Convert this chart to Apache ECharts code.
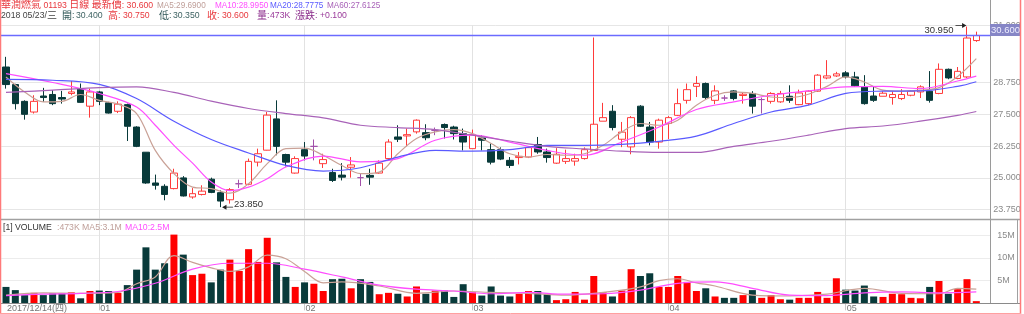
<!DOCTYPE html>
<html><head><meta charset="utf-8">
<script src="https://cdn.jsdelivr.net/npm/echarts@6/dist/echarts.min.js"></script>
<style>html,body{margin:0;padding:0;background:#fff;overflow:hidden}#c{width:1024px;height:314px}</style>
</head><body><div id="c"></div>
<script>
// ---------------- DATA ----------------
const dates = [
'2017/12/14','2017/12/15','2017/12/18','2017/12/19','2017/12/20','2017/12/21','2017/12/22','2017/12/27','2017/12/28','2017/12/29',
'2018/01/02','2018/01/03','2018/01/04','2018/01/05','2018/01/08','2018/01/09','2018/01/10','2018/01/11','2018/01/12','2018/01/15',
'2018/01/16','2018/01/17','2018/01/18','2018/01/19','2018/01/22','2018/01/23','2018/01/24','2018/01/25','2018/01/26','2018/01/29',
'2018/01/30','2018/01/31','2018/02/01','2018/02/02','2018/02/05','2018/02/06','2018/02/07','2018/02/08','2018/02/09','2018/02/12',
'2018/02/13','2018/02/14','2018/02/15','2018/02/20','2018/02/21','2018/02/22','2018/02/23','2018/02/26','2018/02/27','2018/02/28',
'2018/03/01','2018/03/02','2018/03/05','2018/03/06','2018/03/07','2018/03/08','2018/03/09','2018/03/12','2018/03/13','2018/03/14',
'2018/03/15','2018/03/16','2018/03/19','2018/03/20','2018/03/21','2018/03/22','2018/03/23','2018/03/26','2018/03/27','2018/03/28',
'2018/03/29','2018/04/03','2018/04/04','2018/04/06','2018/04/09','2018/04/10','2018/04/11','2018/04/12','2018/04/13','2018/04/16',
'2018/04/17','2018/04/18','2018/04/19','2018/04/20','2018/04/23','2018/04/24','2018/04/25','2018/04/26','2018/04/27','2018/04/30',
'2018/05/02','2018/05/03','2018/05/04','2018/05/07','2018/05/08','2018/05/09','2018/05/10','2018/05/11','2018/05/14','2018/05/15',
'2018/05/16','2018/05/17','2018/05/18','2018/05/21','2018/05/23'];

const opens = [
29.36,28.67,28.01,27.59,28.22,28.28,28.16,28.32,28.49,27.82,
28.38,27.95,27.62,27.88,27.00,26.01,24.80,24.67,24.58,25.00,
24.25,24.35,24.95,24.42,24.14,24.77,24.75,25.62,26.09,27.32,
25.92,25.19,26.11,26.24,25.56,25.21,25.11,25.42,25.01,25.10,
25.19,25.76,26.61,26.65,26.81,26.78,26.87,27.10,27.00,26.74,
26.15,26.57,26.11,26.11,25.69,25.80,25.82,26.31,26.02,25.58,
25.65,25.66,25.76,26.08,27.23,27.62,26.52,26.22,27.82,27.00,
26.41,27.14,27.46,28.05,28.60,28.71,28.05,28.14,28.42,28.24,
28.32,28.08,28.01,27.99,28.21,27.88,27.92,28.41,28.93,29.01,
29.13,28.97,28.58,28.22,28.21,28.16,28.12,28.25,28.38,28.41,
28.32,29.27,28.91,28.97,30.40];
const closes = [
28.67,27.92,27.50,28.01,28.16,27.92,28.10,28.38,27.97,28.38,
28.01,27.55,27.90,27.03,26.24,24.80,24.71,24.35,25.19,24.29,
24.38,24.48,24.43,24.09,24.54,24.77,25.65,25.95,27.47,26.24,
25.62,25.76,25.86,26.24,25.72,24.90,25.03,25.51,25.01,25.03,
25.58,26.41,26.52,26.70,27.27,26.58,26.87,26.98,26.74,26.41,
26.70,26.48,25.62,25.74,25.49,25.85,26.19,26.02,25.80,25.93,
25.76,25.76,26.11,27.11,27.37,26.98,26.80,27.37,27.03,26.41,
27.27,27.37,27.92,28.47,28.71,28.16,28.42,28.14,28.12,28.29,
27.82,28.08,28.32,28.32,28.05,28.34,28.41,29.04,29.01,29.09,
28.97,28.62,27.92,28.05,28.33,28.28,28.28,28.41,28.58,28.05,
29.27,28.93,29.19,30.50,30.60];
const lows = [
28.51,27.69,27.29,27.53,27.99,27.86,27.92,28.25,27.95,27.37,
27.86,27.53,27.55,26.45,26.21,24.77,24.54,24.12,24.55,24.27,
24.18,24.31,24.40,23.85,23.99,24.60,24.71,25.45,26.08,25.89,
25.45,25.17,25.69,25.69,25.39,24.84,24.90,25.01,24.68,24.73,
25.17,25.72,26.41,26.24,26.74,26.48,26.68,26.55,26.51,26.08,
26.15,26.08,25.53,25.70,25.39,25.53,25.78,25.95,25.60,25.55,
25.55,25.48,25.72,26.06,27.23,26.87,26.21,25.93,27.00,26.28,
26.15,26.53,27.43,27.92,28.18,28.08,27.90,28.03,28.05,27.92,
27.53,27.53,27.92,27.95,27.95,27.86,27.86,28.38,28.88,28.97,
28.91,28.58,27.88,27.99,28.21,27.88,28.06,28.21,28.14,27.96,
28.29,28.88,28.88,28.93,30.35];
const highs = [
29.76,28.70,28.05,28.25,28.54,28.45,28.42,28.81,28.71,28.51,
28.42,27.99,28.01,27.92,27.03,26.01,25.13,24.75,25.36,25.07,
24.60,24.71,25.01,24.51,24.60,24.93,25.76,26.15,27.59,28.05,
25.95,25.85,26.41,26.51,25.95,25.36,25.58,25.82,25.17,25.36,
25.69,26.52,27.07,26.94,27.30,27.11,26.98,27.14,27.05,26.94,
26.90,26.68,26.35,26.20,25.82,26.02,26.24,26.61,26.15,26.17,
26.11,25.95,26.20,30.52,27.95,27.86,27.20,27.43,27.86,27.20,
27.33,27.43,28.51,28.71,29.00,28.75,28.64,28.25,28.45,28.34,
28.41,28.16,28.37,28.42,28.64,28.47,28.45,29.08,29.63,29.17,
29.20,29.17,29.04,28.58,28.41,28.41,28.49,28.45,28.64,29.20,
29.50,29.30,29.36,30.95,30.75];

// volume in millions of shares
const volumes = [
3.6,2.9,1.8,2.3,1.8,2.2,2.2,2.4,1.1,2.7,
2.8,2.7,2.3,4.0,7.4,12.3,7.4,8.8,15.1,10.7,
6.2,6.5,4.6,7.4,9.6,7.1,11.9,9.1,14.4,9.0,
5.8,3.6,4.6,4.3,2.7,5.3,5.4,3.3,5.3,4.7,
2.0,2.3,2.1,1.5,3.7,2.1,2.8,2.8,1.4,4.2,
2.4,1.7,3.7,1.7,1.5,2.1,2.7,2.7,2.0,0.7,
0.9,2.5,0.8,6.0,2.4,1.5,2.8,7.5,6.0,6.6,
3.6,3.6,6.0,4.7,2.7,3.3,1.5,1.2,1.2,1.8,
2.9,1.2,1.8,0.9,0.8,1.2,1.2,2.5,1.2,5.5,
3.0,2.8,3.9,1.5,1.4,2.1,2.0,1.2,1.1,3.6,
4.9,2.1,3.1,5.3,0.473];

// moving averages: [candle index, value]
const ma5 = [[0,28.97],[2,28.38],[4,27.99],[6,28.01],[8,28.28],[10,28.05],[12,27.90],[14,27.53],[16,26.08],[18,25.17],
[20,24.64],[22,24.58],[24,24.40],[26,24.77],[28,25.56],[30,26.15],[32,26.17],[34,25.89],[36,25.49],[38,25.17],
[40,25.23],[42,25.95],[44,26.55],[46,26.81],[48,26.90],[50,26.74],[52,26.35],[54,25.95],[56,25.82],[58,25.92],
[60,25.89],[62,25.95],[64,26.28],[66,26.81],[68,27.14],[70,27.07],[72,27.27],[74,27.86],[76,28.25],[78,28.38],
[80,28.32],[82,28.18],[84,28.16],[86,28.29],[88,28.60],[90,28.97],[92,28.77],[94,28.45],[96,28.41],[98,28.45],
[100,28.55],[102,28.99],[104,29.69]];
const ma10 = [[0,29.10],[5,28.75],[10,28.32],[14,27.79],[16,27.07],[18,26.28],[20,25.58],[22,24.84],[24,24.50],[26,24.64],
[28,24.97],[30,25.43],[34,25.86],[38,25.63],[42,25.76],[46,26.48],[50,26.68],[54,26.41],[58,26.08],[62,25.89],
[66,26.41],[70,27.00],[74,27.69],[78,27.99],[82,28.25],[86,28.42],[90,28.58],[94,28.60],[98,28.51],[102,28.81],[104,29.00]];
const ma20 = [[0,28.87],[5,28.84],[10,28.68],[14,28.12],[18,27.23],[22,26.51],[26,25.98],[30,25.49],[34,25.27],[38,25.40],
[42,25.82],[46,26.08],[50,26.05],[54,26.11],[58,26.28],[62,26.28],[66,26.32],[70,26.44],[74,26.64],[78,27.14],
[82,27.59],[86,27.86],[90,28.32],[94,28.41],[98,28.42],[102,28.60],[104,28.78]];
const ma60 = [[0,28.36],[5,28.45],[10,28.55],[14,28.58],[18,28.36],[22,28.02],[26,27.73],[30,27.53],[34,27.36],[38,27.07],
[42,26.98],[46,26.90],[50,26.68],[54,26.45],[58,26.24],[62,26.14],[66,26.05],[70,26.00],[74,26.00],[78,26.24],
[82,26.44],[86,26.68],[90,26.94],[94,27.04],[98,27.23],[102,27.46],[104,27.61]];
const volMa5 = [[0,1.8],[4,2.3],[8,2.2],[12,2.4],[14,4.3],[16,5.8],[18,10.5],[20,9.0],[22,7.8],[24,7.0],
[26,8.0],[28,10.6],[30,9.8],[32,7.0],[34,4.5],[36,4.7],[40,3.8],[44,2.2],[48,2.7],[52,2.4],
[56,2.2],[60,1.8],[64,2.4],[66,2.9],[68,3.6],[70,5.0],[72,5.4],[74,4.5],[76,3.8],[80,1.8],
[84,1.6],[88,2.0],[90,2.8],[92,3.3],[96,2.2],[100,2.1],[102,3.3],[104,3.1]];
const volMa10 = [[0,1.7],[4,2.0],[8,2.2],[12,2.6],[16,4.4],[20,7.5],[24,8.8],[28,8.8],[32,7.5],[36,5.8],
[40,4.0],[44,3.1],[48,2.7],[52,2.1],[56,2.4],[60,2.0],[64,2.1],[68,2.9],[72,4.4],[76,4.7],
[80,3.3],[84,1.8],[88,1.7],[92,2.3],[96,2.5],[100,2.3],[104,2.5]];

const priceTicks = [23.75, 25.0, 26.25, 27.5, 28.75, 31.0];
const volTicks = [5, 10, 15];
const legendMA = { ma5: '29.6900', ma10: '28.9950', ma20: '28.7775', ma60: '27.6125', vma5: '3.1M', vma10: '2.5M' };

// ---------------- CHART ----------------
const FONT = "'Liberation Sans','Noto Sans CJK TC',sans-serif";
const UP = '#ff3a3a', DOWN = '#083a3a', DOJI = '#a250aa';
const C_MA5 = '#c9a196', C_MA10 = '#ff4dff', C_MA20 = '#5a5aff', C_MA60 = '#a862b8';
const weekday = ['日','一','二','三','四','五','六'];

const n = dates.length;
const isUp = i => closes[i] > opens[i] || (closes[i] === opens[i] && (i === 0 || closes[i] >= closes[i - 1]));
const labelIdx = {};
dates.forEach((d, i) => {
  if (i === 0) {
    const p = d.split('/');
    const wd = new Date(+p[0], +p[1] - 1, +p[2]).getDay();
    labelIdx[i] = d + '(' + weekday[wd] + ')';
  } else if (d.slice(5, 7) !== dates[i - 1].slice(5, 7)) {
    labelIdx[i] = d.slice(5, 7);
  }
});
const monthStarts = Object.keys(labelIdx).map(Number).filter(i => i > 0);

const candleData = dates.map((d, i) => {
  const v = [opens[i], closes[i], lows[i], highs[i]];
  if (opens[i] === closes[i]) return { value: v, itemStyle: { borderColor: DOJI, borderColor0: DOJI } };
  return v;
});

const rightArrow = 'path://M0,3 L13,3 L13,4 L0,4 Z M12,0 L20,3.5 L12,7 Z';
const leftArrow = 'path://M20,3 L7,3 L7,4 L20,4 Z M8,0 L0,3.5 L8,7 Z';

const vGrid = {
  silent: true, symbol: 'none', z: 1,
  lineStyle: { color: '#e2e2e2', type: 'solid', width: 1 },
  label: { show: false },
  data: monthStarts.map(i => ({ xAxis: i }))
};

const chart = echarts.init(document.getElementById('c'), null, { renderer: 'canvas' });
const option = {
  animation: false,
  backgroundColor: '#ffffff',
  textStyle: { fontFamily: FONT },
  grid: [
    { left: 1.33, right: 33.7, top: 25.3, height: 193.3 },
    { left: 1.33, right: 33.7, top: 220.5, height: 82.8 }
  ],
  xAxis: [
    { type: 'category', gridIndex: 0, data: dates, max: n, boundaryGap: true,
      axisLine: { show: false }, axisTick: { show: false }, axisLabel: { show: false }, splitLine: { show: false } },
    { type: 'category', gridIndex: 1, data: dates, max: n, boundaryGap: true,
      axisLine: { show: true, lineStyle: { color: '#8a8a8a' } },
      axisTick: { show: true, alignWithLabel: true, length: 7, interval: i => i > 0 && labelIdx[i] !== undefined,
        lineStyle: { color: '#c8c8c8' } },
      axisLabel: { show: true, interval: i => labelIdx[i] !== undefined, formatter: (v, i) => labelIdx[i] || '',
        align: 'left', margin: 1, fontSize: 9, color: '#777', fontFamily: FONT, padding: [0, 0, 0, 1] },
      splitLine: { show: false } }
  ],
  yAxis: [
    { type: 'value', gridIndex: 0, position: 'right', min: 23.4, max: 31.0, scale: true,
      axisLine: { show: false },
      axisTick: { show: false, customValues: priceTicks },
      axisLabel: { show: true, customValues: priceTicks, formatter: v => v.toFixed(3), fontSize: 9, color: '#8a8a8a', margin: 3, fontFamily: FONT },
      splitLine: { show: true, lineStyle: { color: '#e6e6e6', width: 1 } } },
    { type: 'value', gridIndex: 1, position: 'right', min: 0, max: 18.2,
      axisLine: { show: false },
      axisTick: { show: false, customValues: volTicks },
      axisLabel: { show: true, customValues: volTicks, formatter: v => v + 'M', fontSize: 9, color: '#8a8a8a', margin: 7, fontFamily: FONT },
      splitLine: { show: true, lineStyle: { color: '#ececec', width: 1 } } }
  ],
  series: [
    { type: 'candlestick', name: 'K', xAxisIndex: 0, yAxisIndex: 0, data: candleData, barWidth: 7, z: 3,
      itemStyle: { color: '#ffffff', color0: DOWN, borderColor: UP, borderColor0: DOWN, borderWidth: 1 },
      markLine: vGrid,
      markPoint: {
        silent: true,
        data: [
          { type: 'max', valueDim: 'highest', symbol: rightArrow, symbolSize: [11, 5], symbolOffset: [-6, -1],
            itemStyle: { color: '#222' },
            label: { show: true, position: 'left', distance: 2, offset: [0, 5], color: '#333', fontSize: 9.5, fontFamily: FONT,
              formatter: p => (+p.value).toFixed(3) } },
          { type: 'min', valueDim: 'lowest', symbol: leftArrow, symbolSize: [11, 5], symbolOffset: [7, 0],
            itemStyle: { color: '#222' },
            label: { show: true, position: 'right', distance: 1, offset: [0, -3], color: '#333', fontSize: 9.5, fontFamily: FONT,
              formatter: p => (+p.value).toFixed(3) } }
        ]
      }
    },
    { type: 'line', name: 'MA5', xAxisIndex: 0, yAxisIndex: 0, data: ma5, smooth: 0.35, showSymbol: false, z: 4,
      lineStyle: { color: C_MA5, width: 1.2 } },
    { type: 'line', name: 'MA10', xAxisIndex: 0, yAxisIndex: 0, data: ma10, smooth: 0.35, showSymbol: false, z: 4,
      lineStyle: { color: C_MA10, width: 1.2 } },
    { type: 'line', name: 'MA20', xAxisIndex: 0, yAxisIndex: 0, data: ma20, smooth: 0.35, showSymbol: false, z: 4,
      lineStyle: { color: C_MA20, width: 1.2 } },
    { type: 'line', name: 'MA60', xAxisIndex: 0, yAxisIndex: 0, data: ma60, smooth: 0.35, showSymbol: false, z: 4,
      lineStyle: { color: C_MA60, width: 1.2 } },
    { type: 'bar', name: 'VOL', xAxisIndex: 1, yAxisIndex: 1, data: volumes, barWidth: 7, z: 3,
      itemStyle: { color: p => isUp(p.dataIndex) ? '#ff0000' : DOWN },
      markLine: vGrid },
    { type: 'line', name: 'VMA5', xAxisIndex: 1, yAxisIndex: 1, data: volMa5, smooth: 0.35, showSymbol: false, z: 4,
      lineStyle: { color: C_MA5, width: 1.2 } },
    { type: 'line', name: 'VMA10', xAxisIndex: 1, yAxisIndex: 1, data: volMa10, smooth: 0.35, showSymbol: false, z: 4,
      lineStyle: { color: C_MA10, width: 1.2 } }
  ]
};
chart.setOption(option);

// ---------------- price line + tag, frames, header text ----------------
const last = n - 1;
const lastY = Math.round(chart.convertToPixel({ yAxisIndex: 0 }, closes[last])) + 0.5;
const gridRight = chart.convertToPixel({ xAxisIndex: 0 }, n - 1) + 14;
const fmt = v => v.toFixed(3);
const CJK = /[\u2E80-\u9FFF\uFF00-\uFFEF]+|[^\u2E80-\u9FFF\uFF00-\uFFEF]+/g;
function txt(x, y, str, color, ls) {
  const runs = str.match(CJK) || [];
  const text = runs.map(r => (/[\u2E80-\u9FFF\uFF00-\uFFEF]/.test(r) ? '{c|' : '{l|') + r + '}').join('');
  return { type: 'text', x, y, z: 100, silent: true,
    style: { text, fontFamily: FONT, verticalAlign: 'middle', align: 'left',
      rich: { l: { fill: color, fontSize: ls || 8.7, fontFamily: FONT }, c: { fill: color, fontSize: 10, fontFamily: FONT } } } };
}
const RED = '#e8383d', TEAL = '#2e5656', PURP = '#8a2a8a';
const volK = Math.round(volumes[last] * 1000) + 'K';
const chg = closes[last] - closes[last - 1];

chart.setOption({
  graphic: [
    // current price line and tag
    { type: 'line', z: 60, silent: true, shape: { x1: 0, y1: lastY, x2: 990, y2: lastY }, style: { stroke: '#6b6bff', lineWidth: 1.3 } },
    { type: 'rect', z: 90, silent: true, shape: { x: 990, y: lastY - 11.5, width: 31, height: 12 },
      style: { fill: '#8686c6' } },
    { type: 'text', z: 91, silent: true, x: 1005.5, y: lastY - 5.5,
      style: { text: fmt(closes[last]), fill: '#eef', fontSize: 9.5, fontFamily: FONT, align: 'center', verticalAlign: 'middle' } },
    // panel lines
    { type: 'line', z: 80, silent: true, shape: { x1: 990.5, y1: 0, x2: 990.5, y2: 303.5 }, style: { stroke: '#9a9a9a', lineWidth: 1 } },
    { type: 'line', z: 80, silent: true, shape: { x1: 0, y1: 219.5, x2: 1021, y2: 219.5 }, style: { stroke: '#a0a0a0', lineWidth: 1.5 } },
    { type: 'line', z: 80, silent: true, shape: { x1: 0, y1: 303.5, x2: 1021, y2: 303.5 }, style: { stroke: '#8a8a8a', lineWidth: 1 } },
    { type: 'line', z: 80, silent: true, shape: { x1: 1017.5, y1: 219.5, x2: 1017.5, y2: 303.5 }, style: { stroke: '#a0a0a0', lineWidth: 1 } },
    // outer frame
    { type: 'line', z: 95, silent: true, shape: { x1: 0.5, y1: 0, x2: 0.5, y2: 314 }, style: { stroke: '#ff7a7a', lineWidth: 1.5 } },
    { type: 'line', z: 95, silent: true, shape: { x1: 1020.5, y1: 0, x2: 1020.5, y2: 314 }, style: { stroke: '#ff7a7a', lineWidth: 1.5 } },
    { type: 'line', z: 95, silent: true, shape: { x1: 0, y1: 313.5, x2: 1021, y2: 313.5 }, style: { stroke: '#ffa0a0', lineWidth: 1 } },
    // header line 1
    txt(1, 5.5, '華潤燃氣 01193 日線 最新價: ' + fmt(closes[last]), RED),
    txt(157, 5.5, 'MA5:' + legendMA.ma5, '#bf9e98', 8.2),
    txt(215, 5.5, 'MA10:' + legendMA.ma10, C_MA10, 8.2),
    txt(270, 5.5, 'MA20:' + legendMA.ma20, C_MA20, 8.2),
    txt(327, 5.5, 'MA60:' + legendMA.ma60, C_MA60, 8.2),
    // header line 2
    txt(1, 16, '2018 05/23/三', '#444'),
    txt(62, 16, '開:', TEAL),
    txt(76, 16, fmt(opens[last]), '#3d6262'),
    txt(108, 16, '高:', RED),
    txt(123, 16, fmt(highs[last]), RED),
    txt(159, 16, '低:', TEAL),
    txt(173, 16, fmt(lows[last]), '#3d6262'),
    txt(207, 16, '收:', RED),
    txt(222, 16, fmt(closes[last]), RED),
    txt(257, 16, '量:', PURP),
    txt(270, 16, volK, '#9a3a9a'),
    txt(295, 16, '漲跌:', PURP),
    txt(320, 16, (chg >= 0 ? '+' : '') + fmt(chg), '#9a3a9a'),
    // volume header
    txt(3, 228, '[1] VOLUME', '#333'),
    txt(57, 228, ':' + volK + ' MA5:' + legendMA.vma5, '#bf9e98'),
    txt(125, 228, 'MA10:' + legendMA.vma10, C_MA10)
  ]
});
</script>
</body></html>
